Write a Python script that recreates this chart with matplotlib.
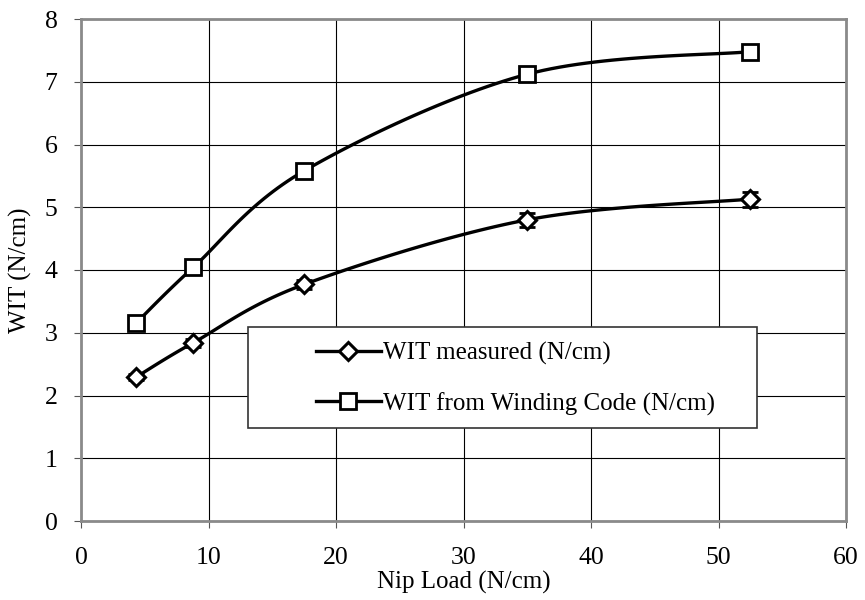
import numpy as np
import matplotlib
matplotlib.use("Agg")
import matplotlib.pyplot as plt
from matplotlib.patches import Rectangle

nip_load = [4.3, 8.8, 17.5, 35.0, 52.5]
wit_measured = [2.29, 2.84, 3.77, 4.80, 5.13]
wit_measured_err = [0.05, 0.06, 0.07, 0.11, 0.12]
wit_code = [3.15, 4.04, 5.58, 7.12, 7.48]

x_ticks = [0, 10, 20, 30, 40, 50, 60]
y_ticks = [0, 1, 2, 3, 4, 5, 6, 7, 8]

plt.rcParams['font.family'] = ['Liberation Serif', 'DejaVu Serif']


def smooth(xs, ys, n=30):
    # Excel-style smoothed line (Catmull-Rom as Bezier)
    P = np.column_stack([xs, ys]).astype(float)
    m = len(P)
    out = []
    for i in range(m - 1):
        p0 = P[i - 1] if i > 0 else P[i]
        p1 = P[i]
        p2 = P[i + 1]
        p3 = P[i + 2] if i + 2 < m else P[i + 1]
        c1 = p1 + (p2 - p0) / 6.0
        c2 = p2 - (p3 - p1) / 6.0
        t = np.linspace(0, 1, n)[:, None]
        seg = ((1 - t) ** 3) * p1 + 3 * ((1 - t) ** 2) * t * c1 + 3 * (1 - t) * t ** 2 * c2 + t ** 3 * p2
        if i > 0:
            seg = seg[1:]
        out.append(seg)
    out = np.vstack(out)
    return out[:, 0], out[:, 1]


fig = plt.figure(figsize=(8.65, 6.0), dpi=100)
ax = fig.add_axes([81 / 865, 1 - 521 / 600, 765 / 865, 502 / 600])

ax.set_xlim(0, 60)
ax.set_ylim(0, 8)
ax.set_xticks(x_ticks)
ax.set_yticks(y_ticks)
ax.grid(True, color='black', linewidth=0.8)
ax.set_axisbelow(True)

for s in ax.spines.values():
    s.set_color('#8a8a8a')
    s.set_linewidth(2.0)

ax.tick_params(axis='both', labelsize=18.5, direction='out', length=5, width=0.8, color='#555555')
ax.tick_params(axis='x', pad=14)
ax.tick_params(axis='y', pad=12)

# measured
sx, sy = smooth(nip_load, wit_measured)
ax.plot(sx, sy, color='black', linewidth=2.4, zorder=3)
ax.errorbar(nip_load, wit_measured, yerr=wit_measured_err, fmt='none', ecolor='black',
            elinewidth=2.0, capsize=6, capthick=2.0, zorder=4)
ax.plot(nip_load, wit_measured, linestyle='none', marker='D', markersize=9.5,
        markerfacecolor='white', markeredgecolor='black', markeredgewidth=2.2, zorder=5)

# code
sx2, sy2 = smooth(nip_load, wit_code)
ax.plot(sx2, sy2, color='black', linewidth=2.4, zorder=3)
ax.plot(nip_load, wit_code, linestyle='none', marker='s', markersize=11,
        markerfacecolor='white', markeredgecolor='black', markeredgewidth=2.0, zorder=5)

ax.set_xlabel('Nip Load (N/cm)', fontsize=18, labelpad=1)
ax.set_ylabel('WIT (N/cm)', fontsize=18, labelpad=9)

# legend
box = Rectangle((0.218, 0.185), 0.666, 0.201, transform=ax.transAxes, facecolor='white',
                edgecolor='#333333', linewidth=1.2, zorder=6)
ax.add_patch(box)
h1, = ax.plot([], [], color='black', linewidth=2.4, marker='D', markersize=9.5,
              markerfacecolor='white', markeredgecolor='black', markeredgewidth=2.2)
h2, = ax.plot([], [], color='black', linewidth=2.4, marker='s', markersize=11,
              markerfacecolor='white', markeredgecolor='black', markeredgewidth=2.0)
leg = ax.legend([h1, h2], ['WIT measured (N/cm)', 'WIT from Winding Code (N/cm)'],
                loc='upper left', bbox_to_anchor=(0.307, 0.356), frameon=False,
                fontsize=18, handlelength=2.6, handletextpad=0.1, labelspacing=1.07,
                borderpad=0, borderaxespad=0)
leg.set_zorder(7)

fig.savefig('out.png', dpi=100)
